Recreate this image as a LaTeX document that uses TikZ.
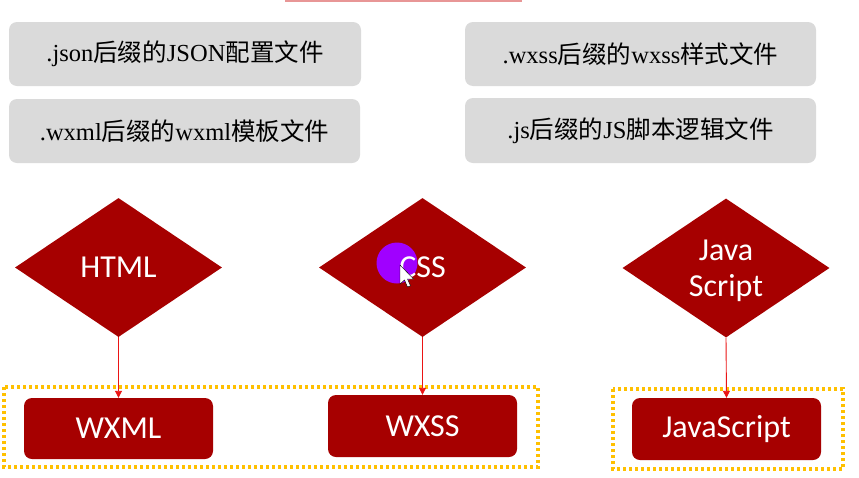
\documentclass[tikz,border=0pt]{standalone}
\usepackage{fontspec}
\setmainfont{Liberation Serif}
\newfontfamily\cjkfont{Noto Sans CJK SC}
\newfontfamily\calfont{Carlito}
\usetikzlibrary{shapes.geometric,arrows.meta}
\newcommand\zh[1]{{\cjkfont #1}}
\definecolor{darkred}{RGB}{166,0,0}
\definecolor{boxgray}{RGB}{218,218,218}
\definecolor{dotyellow}{RGB}{255,192,0}
\definecolor{cursorpurple}{RGB}{160,0,255}
\definecolor{arrowred}{RGB}{235,20,20}
\definecolor{topline}{RGB}{232,150,150}
\begin{document}
\begin{tikzpicture}[x=1pt,y=-1pt,
  gbox/.style={fill=boxgray, rounded corners=8pt, inner sep=0pt, text=black,
    font=\fontsize{24.5}{29}\selectfont},
  dia/.style={diamond, fill=darkred, minimum width=207pt, minimum height=139pt,
    inner sep=0pt, text=white, font=\calfont\fontsize{32}{36}\selectfont, align=center},
  rbox/.style={fill=darkred, rounded corners=8pt, minimum width=189pt, minimum height=62pt,
    inner sep=0pt, text=white, font=\calfont\fontsize{32}{36}\selectfont},
  dtext/.style={text=white, font=\calfont\fontsize{32}{36}\selectfont, inner sep=0pt},
  arr/.style={draw=arrowred, line width=0.9pt,
    -{Triangle[length=7pt,width=7pt]}},
  dotbox/.style={draw=dotyellow, line width=3.2pt, dash pattern=on 3pt off 3pt}
]
\useasboundingbox (0,0) rectangle (859,477);
\fill[white] (0,0) rectangle (859,477);
\fill[topline] (285,0) rectangle (522,2);

% gray boxes
\node[gbox, minimum width=352pt, minimum height=64pt] (g1) at (185,54)
  {.json\zh{后缀的}JSON\zh{配置文件}};
\node[gbox, minimum width=351pt, minimum height=64pt] (g2) at (184.5,131)
  {.wxml\zh{后缀的}wxml\zh{模板文件}};
\node[gbox, minimum width=351pt, minimum height=64pt] (g3) at (640.5,54)
  {.wxss\zh{后缀的}wxss\zh{样式文件}};
\node[gbox, minimum width=351pt, minimum height=65pt] (g4) at (640.5,130.5)
  {.js\zh{后缀的}JS\zh{脚本逻辑文件}};

% diamonds
\node[dia] (d1) at (118.5,267.5) {HTML};
\node[dia] (d2) at (422.5,267.5) {};
\node[dia] (d3) at (726,268) {};
\node[dtext, align=center] (jstext) at (726,271) {Java\\[0pt]Script};

% cursor highlight
\fill[cursorpurple] (397,263) circle (20.5);
\node[dtext] (csstext) at (d2.center) {CSS};
\filldraw[fill=white, draw=black, line width=0.4pt]
  (400,265) -- (400,284) -- (404.5,280) -- (407.5,287) -- (410.5,285.8) -- (407.5,279) -- (413.5,279) -- cycle;

% red boxes
\node[rbox, minimum height=61pt] (r1) at (118.5,428.5) {WXML};
\node[rbox] (r2) at (422.5,426) {WXSS};
\node[rbox] (r3) at (726.5,429) {JavaScript};

% dotted groups
\draw[dotbox] (4,387) rectangle (538,467);
\draw[dotbox] (613,389) rectangle (843,469);

% arrows
\draw[arr] (d1.south) -- (r1.north);
\draw[arr] (d2.south) -- (r2.north);
\draw[arr] (d3.south) -- (r3.north);
\end{tikzpicture}
\end{document}
